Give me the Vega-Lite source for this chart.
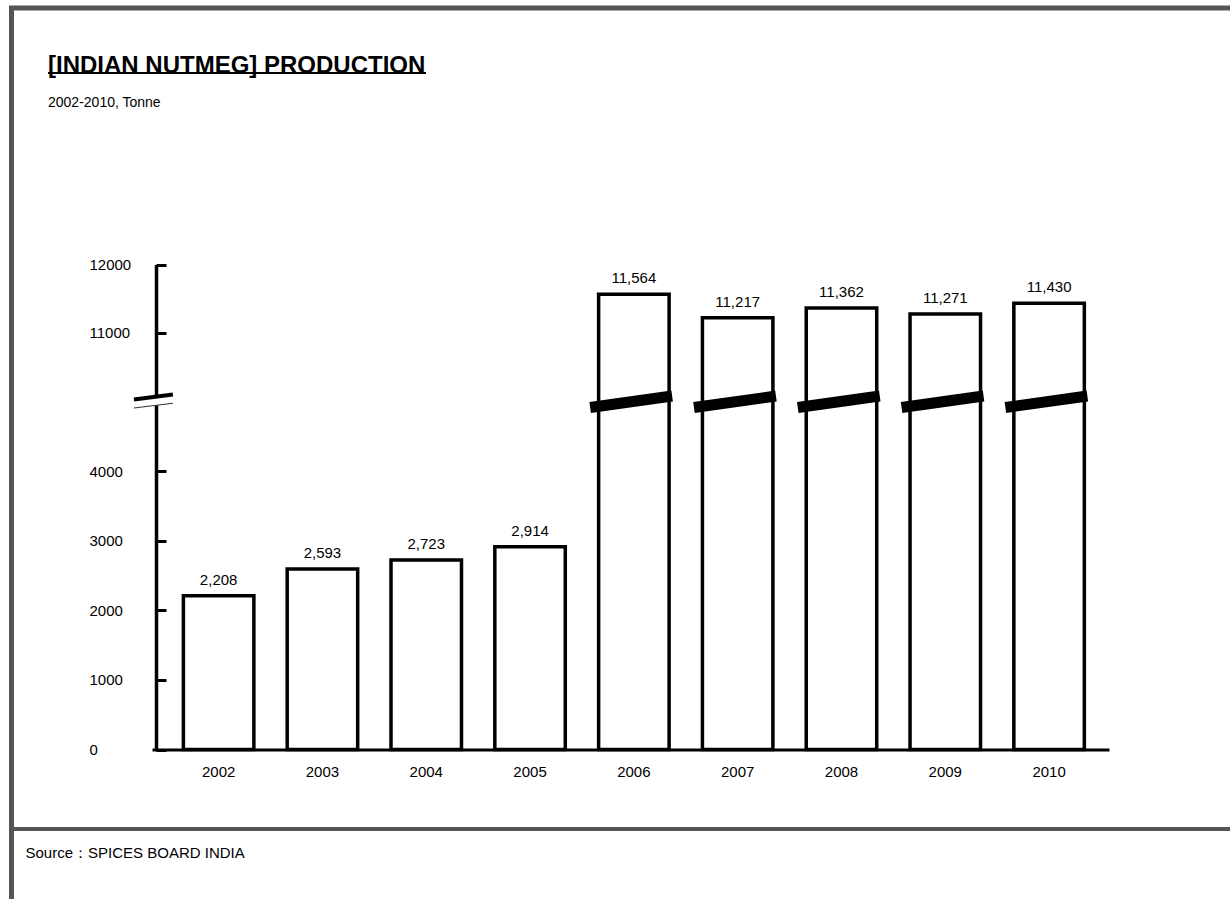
{
  "$schema": "https://vega.github.io/schema/vega-lite/v6.json",
  "width": 1225,
  "height": 895,
  "autosize": {"type": "none"},
  "padding": {"left": 11.5, "top": 8, "right": 0, "bottom": 0},
  "background": "white",
  "config": {
    "view": {"stroke": "#555555", "strokeWidth": 5},
    "font": "Liberation Sans"
  },
  "title": {
    "text": "[INDIAN NUTMEG] PRODUCTION",
    "subtitle": "2002-2010, Tonne",
    "anchor": "start",
    "frame": "group",
    "dx": 36.5,
    "dy": 102,
    "offset": 0,
    "fontSize": 24,
    "fontWeight": "bold",
    "color": "black",
    "font": "Liberation Sans",
    "subtitleFont": "Liberation Sans",
    "subtitleFontSize": 14,
    "subtitleColor": "black",
    "subtitlePadding": 18
  },
  "data": {
    "values": [
      {"year": "2002", "value": 2208},
      {"year": "2003", "value": 2593},
      {"year": "2004", "value": 2723},
      {"year": "2005", "value": 2914},
      {"year": "2006", "value": 11564},
      {"year": "2007", "value": 11217},
      {"year": "2008", "value": 11362},
      {"year": "2009", "value": 11271},
      {"year": "2010", "value": 11430}
    ]
  },
  "encoding": {
    "x": {
      "field": "year",
      "type": "ordinal",
      "scale": {"range": [140.5, 1097.5], "paddingInner": 0.321, "paddingOuter": 0.27, "align": 0.56},
      "axis": {
        "orient": "bottom",
        "offset": -153.5,
        "domainColor": "black",
        "domainWidth": 3,
        "ticks": false,
        "tickSize": 0,
        "labelAngle": 0,
        "labelFontSize": 15,
        "labelPadding": 22,
        "labelBaseline": "middle",
        "labelColor": "black",
        "title": "Source：SPICES BOARD INDIA",
        "titleX": 13.5,
        "titleY": 102.5,
        "titleAlign": "left",
        "titleAnchor": "start",
        "titleBaseline": "middle",
        "titleFontWeight": "normal",
        "titleFontSize": 15,
        "titleColor": "black"
      }
    },
    "y": {
      "field": "value",
      "type": "quantitative",
      "scale": {"domain": [0, 5000, 10000, 12000], "range": [741.5, 393.5, 392.5, 256.5], "nice": false, "zero": false},
      "axis": {
        "values": [0, 1000, 2000, 3000, 4000, 11000, 12000],
        "format": "d",
        "offset": -144.5,
        "domainColor": "black",
        "domainWidth": 3.5,
        "tickColor": "black",
        "tickWidth": 3,
        "tickSize": -10,
        "labelAlign": "left",
        "labelPadding": 77,
        "labelFontSize": 15,
        "labelColor": "black",
        "labelOverlap": false,
        "grid": false,
        "title": null
      }
    }
  },
  "layer": [
    {
      "mark": {"type": "bar", "fill": "white", "stroke": "black", "strokeWidth": 3.5}
    },
    {
      "transform": [{"filter": "datum.year == '2002'"}],
      "mark": {"type": "rule", "color": "#555555", "strokeWidth": 4},
      "encoding": {
        "x": null,
        "y": {"datum": -1142}
      }
    },
    {
      "transform": [{"filter": "datum.year == '2002'"}],
      "mark": {"type": "rule", "color": "black", "strokeWidth": 2, "strokeCap": "butt"},
      "encoding": {
        "x": {"field": "year", "type": "ordinal", "bandPosition": -1.921},
        "x2": {"field": "year", "bandPosition": 3.442},
        "y": {"datum": 14816},
        "y2": {"datum": 14816}
      }
    },
    {
      "transform": [{"filter": "datum.value > 10000"}],
      "mark": {"type": "rule", "color": "black", "strokeWidth": 11, "strokeCap": "butt"},
      "encoding": {
        "x": {"field": "year", "type": "ordinal", "bandPosition": -0.12},
        "x2": {"field": "year", "bandPosition": 1.043},
        "y": {"datum": 4914},
        "y2": {"datum": 10066}
      }
    },
    {
      "transform": [{"filter": "datum.year == '2002'"}],
      "mark": {"type": "rule", "color": "white", "strokeWidth": 10, "strokeCap": "butt"},
      "encoding": {
        "x": {"field": "year", "type": "ordinal", "bandPosition": -0.702},
        "x2": {"field": "year", "bandPosition": -0.149},
        "y": {"datum": 4968},
        "y2": {"datum": 10037}
      }
    },
    {
      "transform": [{"filter": "datum.year == '2002'"}],
      "mark": {"type": "rule", "color": "black", "strokeWidth": 4, "strokeCap": "butt"},
      "encoding": {
        "x": {"field": "year", "type": "ordinal", "bandPosition": -0.702},
        "x2": {"field": "year", "bandPosition": -0.149},
        "y": {"datum": 10015},
        "y2": {"datum": 10088}
      }
    },
    {
      "transform": [{"filter": "datum.year == '2002'"}],
      "mark": {"type": "rule", "color": "#333333", "strokeWidth": 1.2, "strokeCap": "butt"},
      "encoding": {
        "x": {"field": "year", "type": "ordinal", "bandPosition": -0.702},
        "x2": {"field": "year", "bandPosition": -0.149},
        "y": {"datum": 4907},
        "y2": {"datum": 4975}
      }
    },
    {
      "mark": {"type": "text", "dy": -16, "fontSize": 15, "baseline": "middle", "color": "black"},
      "encoding": {
        "text": {"field": "value", "type": "quantitative", "format": ","}
      }
    }
  ]
}
